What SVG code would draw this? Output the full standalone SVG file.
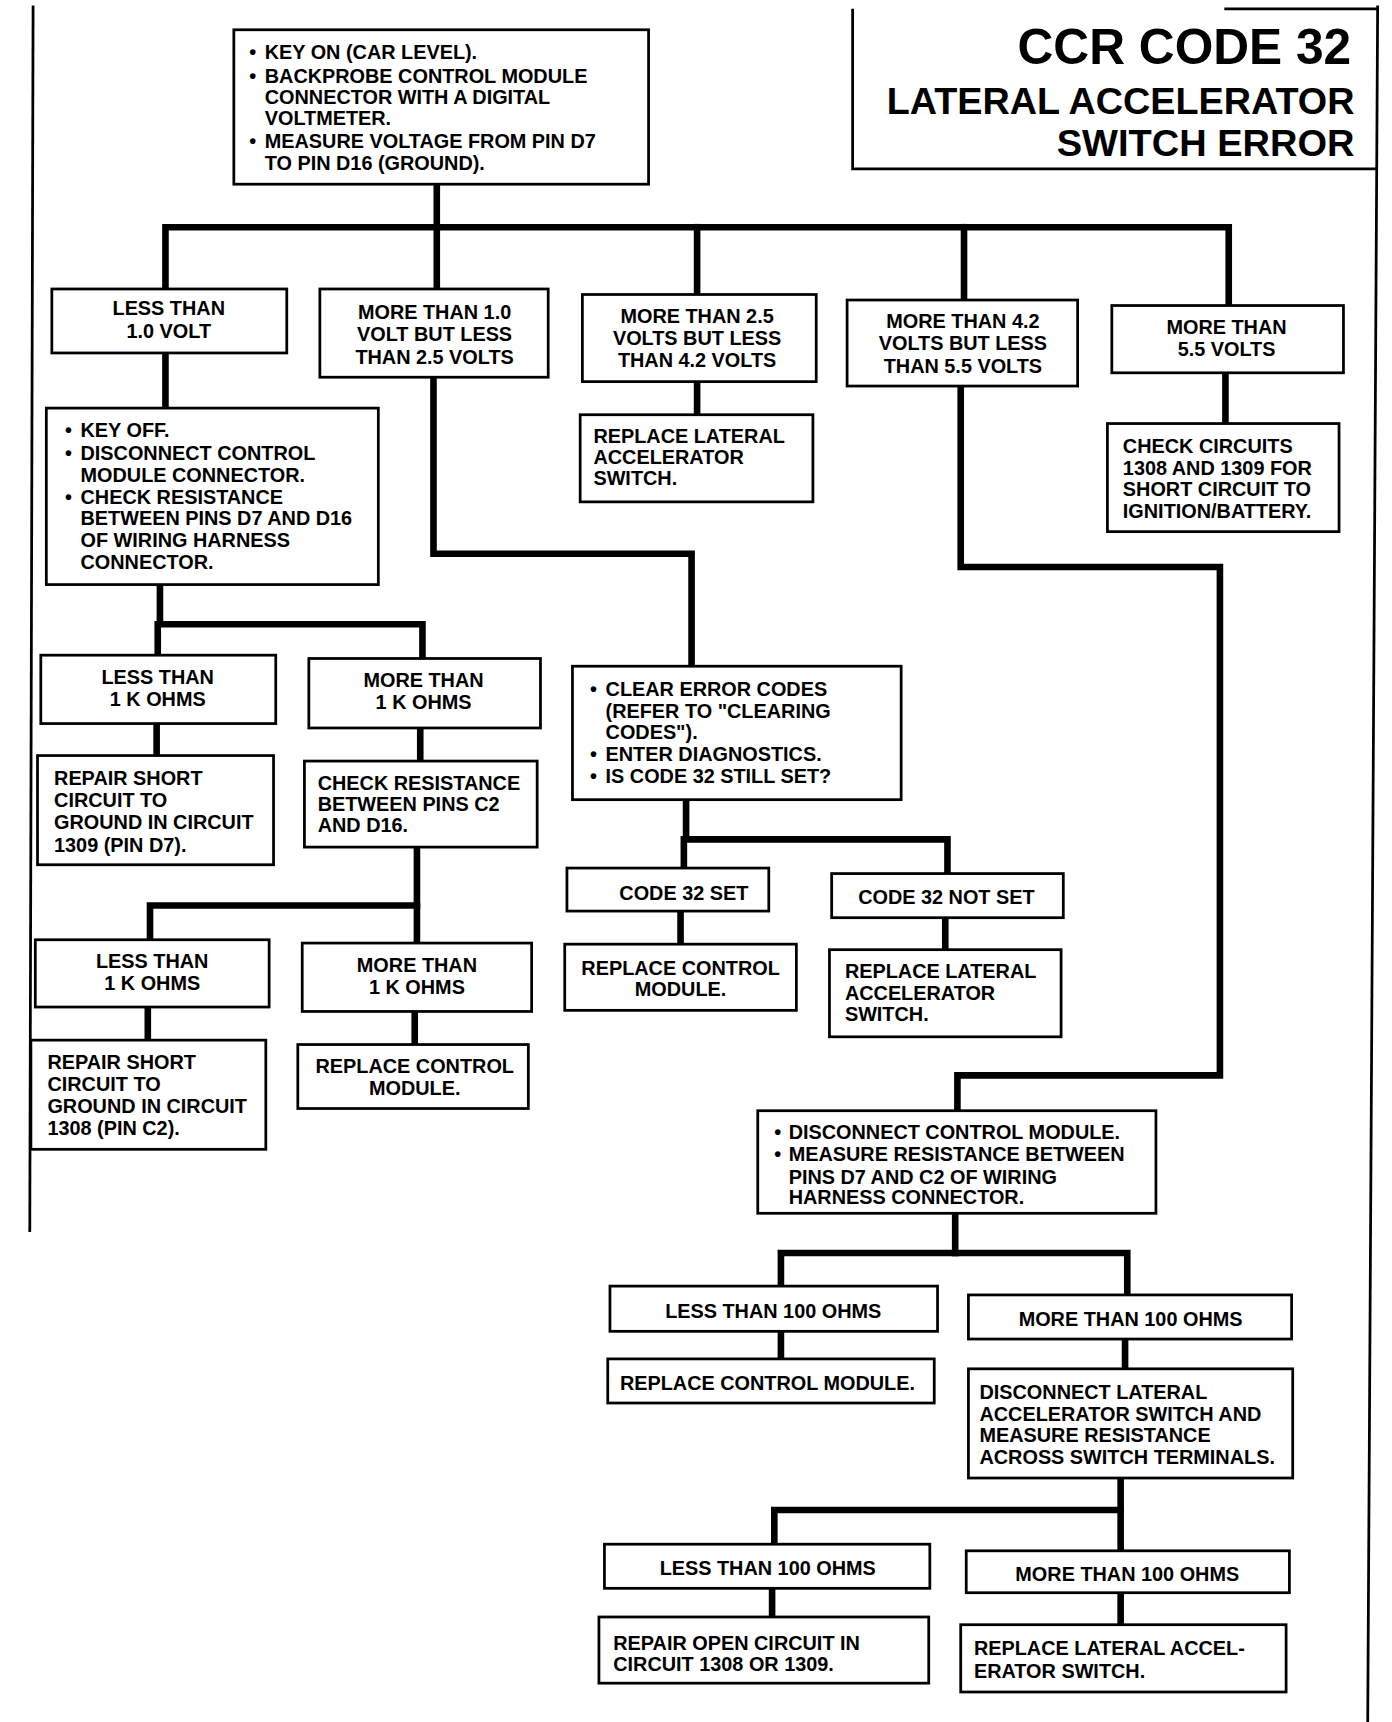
<svg xmlns="http://www.w3.org/2000/svg" width="1392" height="1722" viewBox="0 0 1392 1722">
<style>
.box{fill:#fff;stroke:#000;stroke-width:2.5}
.conn{fill:none;stroke:#000;stroke-width:6;stroke-linejoin:miter;stroke-linecap:square}
.frame{fill:none;stroke:#000;stroke-width:2.5}
text{font-family:"Liberation Sans",Arial,sans-serif;font-size:18px;font-weight:bold;fill:#000}
.c{text-anchor:middle}
.title{font-size:45px;text-anchor:end}
.sub{font-size:33px;text-anchor:end}
</style>
<rect width="1392" height="1722" fill="#fff"/>
<g transform="scale(1.103)">
<g id="frame">
<path class="frame" d="M30,5 L27,1117"/>
<path class="frame" d="M773,8 V153 H1249"/>
<path class="frame" d="M1110,8 H1249"/>
<path class="frame" d="M1249,5 L1240,1562"/>
</g>
<g id="title">
<text class="title" x="1225" y="58">CCR CODE 32</text>
<text class="sub" x="1228" y="103" textLength="424" lengthAdjust="spacingAndGlyphs">LATERAL ACCELERATOR</text>
<text class="sub" x="1228" y="141" textLength="270" lengthAdjust="spacingAndGlyphs">SWITCH ERROR</text>
</g>
<g id="connectors">
<path class="conn" d="M396,167 V262"/>
<path class="conn" d="M150,262 V206 H1114 V278"/>
<path class="conn" d="M632,206 V268"/>
<path class="conn" d="M874,206 V272"/>
<path class="conn" d="M150,320 V370"/>
<path class="conn" d="M632,346 V376"/>
<path class="conn" d="M1111,338 V384"/>
<path class="conn" d="M393,342 V502 H627 V604"/>
<path class="conn" d="M871,348 V514 H1106 V975 H868 V1007"/>
<path class="conn" d="M145,530 V566 H383 V597"/>
<path class="conn" d="M143,566 V594"/>
<path class="conn" d="M142,656 V685"/>
<path class="conn" d="M381,660 V690"/>
<path class="conn" d="M378,768 V821 H136 V852"/>
<path class="conn" d="M378,821 V855"/>
<path class="conn" d="M134,913 V943"/>
<path class="conn" d="M376,917 V947"/>
<path class="conn" d="M622,725 V761 H859 V792"/>
<path class="conn" d="M620,761 V787"/>
<path class="conn" d="M617,826 V856"/>
<path class="conn" d="M857,832 V861"/>
<path class="conn" d="M866,1100 V1136"/>
<path class="conn" d="M708,1166 V1136 H1022 V1174"/>
<path class="conn" d="M708,1207 V1232"/>
<path class="conn" d="M1020,1214 V1241"/>
<path class="conn" d="M1016,1340 V1406"/>
<path class="conn" d="M702,1400 V1369 H1016"/>
<path class="conn" d="M700,1440 V1466"/>
<path class="conn" d="M1016,1444 V1473"/>
</g>
<g id="n_start">
<rect class="box" x="212" y="27" width="376" height="140"/>
<text x="226" y="53.5">•</text><text x="240" y="53.5">KEY ON (CAR LEVEL).</text>
<text x="226" y="75.5">•</text><text x="240" y="75.5">BACKPROBE CONTROL MODULE</text>
<text x="240" y="94.5">CONNECTOR WITH A DIGITAL</text>
<text x="240" y="113.5">VOLTMETER.</text>
<text x="226" y="134.5">•</text><text x="240" y="134.5">MEASURE VOLTAGE FROM PIN D7</text>
<text x="240" y="154.5">TO PIN D16 (GROUND).</text>
</g>
<g id="n_lt1v">
<rect class="box" x="47" y="262" width="213" height="58"/>
<text class="c" x="153" y="286">LESS THAN</text>
<text class="c" x="153" y="306">1.0 VOLT</text>
</g>
<g id="n_1to25">
<rect class="box" x="290" y="262" width="207" height="80"/>
<text class="c" x="394" y="289">MORE THAN 1.0</text>
<text class="c" x="394" y="309">VOLT BUT LESS</text>
<text class="c" x="394" y="330">THAN 2.5 VOLTS</text>
</g>
<g id="n_25to42">
<rect class="box" x="528" y="267" width="212" height="79"/>
<text class="c" x="632" y="293">MORE THAN 2.5</text>
<text class="c" x="632" y="313">VOLTS BUT LESS</text>
<text class="c" x="632" y="333">THAN 4.2 VOLTS</text>
</g>
<g id="n_42to55">
<rect class="box" x="768" y="272" width="209" height="78"/>
<text class="c" x="873" y="297">MORE THAN 4.2</text>
<text class="c" x="873" y="317">VOLTS BUT LESS</text>
<text class="c" x="873" y="338">THAN 5.5 VOLTS</text>
</g>
<g id="n_gt55">
<rect class="box" x="1008" y="277" width="210" height="61"/>
<text class="c" x="1112" y="303">MORE THAN</text>
<text class="c" x="1112" y="323">5.5 VOLTS</text>
</g>
<g id="n_keyoff">
<rect class="box" x="42" y="370" width="301" height="160"/>
<text x="59" y="396">•</text><text x="73" y="396">KEY OFF.</text>
<text x="59" y="417">•</text><text x="73" y="417">DISCONNECT CONTROL</text>
<text x="73" y="437">MODULE CONNECTOR.</text>
<text x="59" y="457">•</text><text x="73" y="457">CHECK RESISTANCE</text>
<text x="73" y="476">BETWEEN PINS D7 AND D16</text>
<text x="73" y="496">OF WIRING HARNESS</text>
<text x="73" y="516">CONNECTOR.</text>
</g>
<g id="n_repl_lat1">
<rect class="box" x="526" y="376" width="211" height="79"/>
<text x="538" y="402">REPLACE LATERAL</text>
<text x="538" y="421">ACCELERATOR</text>
<text x="538" y="440">SWITCH.</text>
</g>
<g id="n_check_circ">
<rect class="box" x="1004" y="384" width="210" height="98"/>
<text x="1018" y="411">CHECK CIRCUITS</text>
<text x="1018" y="431">1308 AND 1309 FOR</text>
<text x="1018" y="450">SHORT CIRCUIT TO</text>
<text x="1018" y="470">IGNITION/BATTERY.</text>
</g>
<g id="n_clear">
<rect class="box" x="519" y="604" width="298" height="121"/>
<text x="535" y="631">•</text><text x="549" y="631">CLEAR ERROR CODES</text>
<text x="549" y="651">(REFER TO "CLEARING</text>
<text x="549" y="670">CODES").</text>
<text x="535" y="690">•</text><text x="549" y="690">ENTER DIAGNOSTICS.</text>
<text x="535" y="710">•</text><text x="549" y="710">IS CODE 32 STILL SET?</text>
</g>
<g id="n_disc_cm">
<rect class="box" x="687" y="1007" width="361" height="93"/>
<text x="702" y="1033">•</text><text x="715" y="1033">DISCONNECT CONTROL MODULE.</text>
<text x="702" y="1053">•</text><text x="715" y="1053">MEASURE RESISTANCE BETWEEN</text>
<text x="715" y="1073">PINS D7 AND C2 OF WIRING</text>
<text x="715" y="1092">HARNESS CONNECTOR.</text>
</g>
<g id="n_lt1k_a">
<rect class="box" x="37" y="594" width="213" height="62"/>
<text class="c" x="143" y="620">LESS THAN</text>
<text class="c" x="143" y="640">1 K OHMS</text>
</g>
<g id="n_gt1k_a">
<rect class="box" x="280" y="597" width="210" height="63"/>
<text class="c" x="384" y="623">MORE THAN</text>
<text class="c" x="384" y="643">1 K OHMS</text>
</g>
<g id="n_repair1309">
<rect class="box" x="34" y="685" width="214" height="99"/>
<text x="49" y="712">REPAIR SHORT</text>
<text x="49" y="732">CIRCUIT TO</text>
<text x="49" y="752">GROUND IN CIRCUIT</text>
<text x="49" y="772">1309 (PIN D7).</text>
</g>
<g id="n_check_c2">
<rect class="box" x="276" y="690" width="211" height="78"/>
<text x="288" y="716">CHECK RESISTANCE</text>
<text x="288" y="735">BETWEEN PINS C2</text>
<text x="288" y="754">AND D16.</text>
</g>
<g id="n_lt1k_b">
<rect class="box" x="32" y="852" width="212" height="61"/>
<text class="c" x="138" y="878">LESS THAN</text>
<text class="c" x="138" y="898">1 K OHMS</text>
</g>
<g id="n_gt1k_b">
<rect class="box" x="274" y="855" width="208" height="62"/>
<text class="c" x="378" y="881">MORE THAN</text>
<text class="c" x="378" y="901">1 K OHMS</text>
</g>
<g id="n_repair1308">
<rect class="box" x="28" y="943" width="213" height="99"/>
<text x="43" y="969">REPAIR SHORT</text>
<text x="43" y="989">CIRCUIT TO</text>
<text x="43" y="1009">GROUND IN CIRCUIT</text>
<text x="43" y="1029">1308 (PIN C2).</text>
</g>
<g id="n_repl_cm1">
<rect class="box" x="270" y="947" width="209" height="58"/>
<text class="c" x="376" y="973">REPLACE CONTROL</text>
<text class="c" x="376" y="993">MODULE.</text>
</g>
<g id="n_code_set">
<rect class="box" x="514" y="787" width="183" height="39"/>
<text class="c" x="620" y="816">CODE 32 SET</text>
</g>
<g id="n_code_notset">
<rect class="box" x="754" y="792" width="210" height="40"/>
<text class="c" x="858" y="820">CODE 32 NOT SET</text>
</g>
<g id="n_repl_cm2">
<rect class="box" x="512" y="856" width="210" height="60"/>
<text class="c" x="617" y="884">REPLACE CONTROL</text>
<text class="c" x="617" y="903">MODULE.</text>
</g>
<g id="n_repl_lat2">
<rect class="box" x="752" y="861" width="210" height="79"/>
<text x="766" y="887">REPLACE LATERAL</text>
<text x="766" y="907">ACCELERATOR</text>
<text x="766" y="926">SWITCH.</text>
</g>
<g id="n_lt100_a">
<rect class="box" x="553" y="1166" width="297" height="41"/>
<text class="c" x="701" y="1195">LESS THAN 100 OHMS</text>
</g>
<g id="n_gt100_a">
<rect class="box" x="878" y="1174" width="293" height="40"/>
<text class="c" x="1025" y="1202">MORE THAN 100 OHMS</text>
</g>
<g id="n_repl_cm3">
<rect class="box" x="551" y="1232" width="296" height="40"/>
<text x="562" y="1260">REPLACE CONTROL MODULE.</text>
</g>
<g id="n_disc_lat">
<rect class="box" x="878" y="1241" width="294" height="99"/>
<text x="888" y="1268">DISCONNECT LATERAL</text>
<text x="888" y="1288">ACCELERATOR SWITCH AND</text>
<text x="888" y="1307">MEASURE RESISTANCE</text>
<text x="888" y="1327">ACROSS SWITCH TERMINALS.</text>
</g>
<g id="n_lt100_b">
<rect class="box" x="548" y="1400" width="295" height="40"/>
<text class="c" x="696" y="1428">LESS THAN 100 OHMS</text>
</g>
<g id="n_gt100_b">
<rect class="box" x="876" y="1406" width="293" height="38"/>
<text class="c" x="1022" y="1433">MORE THAN 100 OHMS</text>
</g>
<g id="n_repair_open">
<rect class="box" x="543" y="1466" width="299" height="60"/>
<text x="556" y="1496">REPAIR OPEN CIRCUIT IN</text>
<text x="556" y="1515">CIRCUIT 1308 OR 1309.</text>
</g>
<g id="n_repl_accel">
<rect class="box" x="871" y="1473" width="295" height="61"/>
<text x="883" y="1500">REPLACE LATERAL ACCEL-</text>
<text x="883" y="1521">ERATOR SWITCH.</text>
</g>
</g>
</svg>
